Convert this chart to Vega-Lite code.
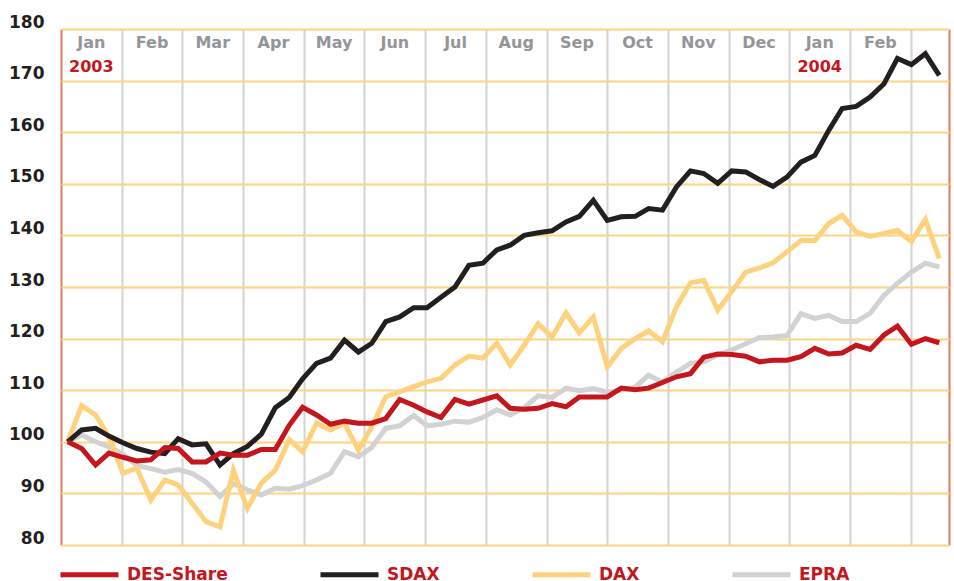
{
  "$schema": "https://vega.github.io/schema/vega-lite/v6.json",
  "width": 888,
  "height": 516,
  "autosize": {"type": "none"},
  "padding": {"left": 61, "top": 29, "right": 5, "bottom": 36},
  "background": "white",
  "config": {"view": {"stroke": null}, "font": "DejaVu Sans"},
  "datasets": {
    "series": [
      {"t":0.11,"DES-Share":100,"SDAX":100,"DAX":100,"EPRA":100},
      {"t":0.34,"DES-Share":98.7,"SDAX":102.3,"DAX":107.0,"EPRA":101.3},
      {"t":0.57,"DES-Share":95.5,"SDAX":102.6,"DAX":105.2,"EPRA":100.0},
      {"t":0.79,"DES-Share":97.8,"SDAX":101.1,"DAX":101.0,"EPRA":99.0},
      {"t":1.02,"DES-Share":97.0,"SDAX":99.8,"DAX":93.9,"EPRA":97.6},
      {"t":1.25,"DES-Share":96.3,"SDAX":98.7,"DAX":94.9,"EPRA":95.4},
      {"t":1.48,"DES-Share":96.5,"SDAX":98.0,"DAX":88.7,"EPRA":94.8},
      {"t":1.71,"DES-Share":98.9,"SDAX":97.7,"DAX":92.6,"EPRA":94.1},
      {"t":1.93,"DES-Share":98.7,"SDAX":100.6,"DAX":91.6,"EPRA":94.6},
      {"t":2.16,"DES-Share":96.1,"SDAX":99.4,"DAX":88.1,"EPRA":93.9},
      {"t":2.39,"DES-Share":96.1,"SDAX":99.6,"DAX":84.5,"EPRA":92.2},
      {"t":2.62,"DES-Share":97.8,"SDAX":95.5,"DAX":83.5,"EPRA":89.4},
      {"t":2.84,"DES-Share":97.4,"SDAX":97.7,"DAX":94.5,"EPRA":91.9},
      {"t":3.07,"DES-Share":97.4,"SDAX":99.1,"DAX":87.1,"EPRA":90.7},
      {"t":3.30,"DES-Share":98.5,"SDAX":101.5,"DAX":92.0,"EPRA":89.7},
      {"t":3.53,"DES-Share":98.5,"SDAX":106.6,"DAX":94.5,"EPRA":91.0},
      {"t":3.76,"DES-Share":103.2,"SDAX":108.6,"DAX":100.4,"EPRA":90.8},
      {"t":3.98,"DES-Share":106.7,"SDAX":112.2,"DAX":98.1,"EPRA":91.5},
      {"t":4.21,"DES-Share":105.2,"SDAX":115.2,"DAX":103.6,"EPRA":92.6},
      {"t":4.44,"DES-Share":103.4,"SDAX":116.2,"DAX":102.3,"EPRA":93.9},
      {"t":4.67,"DES-Share":104.0,"SDAX":119.7,"DAX":103.6,"EPRA":98.1},
      {"t":4.90,"DES-Share":103.6,"SDAX":117.4,"DAX":98.4,"EPRA":97.1},
      {"t":5.12,"DES-Share":103.6,"SDAX":119.1,"DAX":102.9,"EPRA":98.9},
      {"t":5.35,"DES-Share":104.5,"SDAX":123.3,"DAX":108.7,"EPRA":102.6},
      {"t":5.58,"DES-Share":108.2,"SDAX":124.2,"DAX":109.7,"EPRA":103.1},
      {"t":5.81,"DES-Share":107.1,"SDAX":126.0,"DAX":110.7,"EPRA":105.1},
      {"t":6.03,"DES-Share":105.8,"SDAX":126.0,"DAX":111.6,"EPRA":103.1},
      {"t":6.26,"DES-Share":104.7,"SDAX":128.0,"DAX":112.3,"EPRA":103.4},
      {"t":6.49,"DES-Share":108.2,"SDAX":130.0,"DAX":114.9,"EPRA":104.0},
      {"t":6.72,"DES-Share":107.3,"SDAX":134.2,"DAX":116.6,"EPRA":103.8},
      {"t":6.95,"DES-Share":108.1,"SDAX":134.6,"DAX":116.2,"EPRA":104.7},
      {"t":7.18,"DES-Share":108.9,"SDAX":137.2,"DAX":119.1,"EPRA":106.2},
      {"t":7.40,"DES-Share":106.5,"SDAX":138.1,"DAX":114.9,"EPRA":105.2},
      {"t":7.63,"DES-Share":106.3,"SDAX":140.0,"DAX":118.7,"EPRA":106.6},
      {"t":7.86,"DES-Share":106.5,"SDAX":140.5,"DAX":122.9,"EPRA":108.9},
      {"t":8.09,"DES-Share":107.4,"SDAX":140.9,"DAX":120.3,"EPRA":108.6},
      {"t":8.32,"DES-Share":106.8,"SDAX":142.6,"DAX":125.0,"EPRA":110.4},
      {"t":8.54,"DES-Share":108.7,"SDAX":143.7,"DAX":121.1,"EPRA":109.9},
      {"t":8.77,"DES-Share":108.7,"SDAX":146.8,"DAX":124.2,"EPRA":110.3},
      {"t":9.00,"DES-Share":108.7,"SDAX":142.9,"DAX":114.5,"EPRA":109.6},
      {"t":9.23,"DES-Share":110.4,"SDAX":143.6,"DAX":118.1,"EPRA":110.0},
      {"t":9.46,"DES-Share":110.1,"SDAX":143.7,"DAX":120.0,"EPRA":110.6},
      {"t":9.68,"DES-Share":110.4,"SDAX":145.2,"DAX":121.5,"EPRA":112.9},
      {"t":9.91,"DES-Share":111.5,"SDAX":144.9,"DAX":119.4,"EPRA":111.6},
      {"t":10.14,"DES-Share":112.6,"SDAX":149.4,"DAX":126.2,"EPRA":113.5},
      {"t":10.37,"DES-Share":113.2,"SDAX":152.5,"DAX":130.8,"EPRA":115.2},
      {"t":10.59,"DES-Share":116.4,"SDAX":152.0,"DAX":131.3,"EPRA":115.5},
      {"t":10.82,"DES-Share":117.0,"SDAX":150.1,"DAX":125.5,"EPRA":116.8},
      {"t":11.05,"DES-Share":116.9,"SDAX":152.5,"DAX":129.1,"EPRA":117.8},
      {"t":11.28,"DES-Share":116.6,"SDAX":152.3,"DAX":132.9,"EPRA":119.0},
      {"t":11.51,"DES-Share":115.5,"SDAX":150.8,"DAX":133.7,"EPRA":120.2},
      {"t":11.73,"DES-Share":115.8,"SDAX":149.5,"DAX":134.7,"EPRA":120.3},
      {"t":11.96,"DES-Share":115.8,"SDAX":151.3,"DAX":136.8,"EPRA":120.6},
      {"t":12.19,"DES-Share":116.5,"SDAX":154.2,"DAX":139.0,"EPRA":124.8},
      {"t":12.42,"DES-Share":118.1,"SDAX":155.5,"DAX":139.0,"EPRA":123.9},
      {"t":12.65,"DES-Share":117.0,"SDAX":160.4,"DAX":142.3,"EPRA":124.5},
      {"t":12.87,"DES-Share":117.2,"SDAX":164.6,"DAX":143.9,"EPRA":123.3},
      {"t":13.10,"DES-Share":118.7,"SDAX":165.0,"DAX":140.7,"EPRA":123.3},
      {"t":13.33,"DES-Share":117.9,"SDAX":166.8,"DAX":139.8,"EPRA":124.9},
      {"t":13.56,"DES-Share":120.7,"SDAX":169.4,"DAX":140.4,"EPRA":128.4},
      {"t":13.78,"DES-Share":122.4,"SDAX":174.3,"DAX":141.0,"EPRA":130.7},
      {"t":14.01,"DES-Share":118.9,"SDAX":173.1,"DAX":138.8,"EPRA":132.9},
      {"t":14.24,"DES-Share":120.0,"SDAX":175.2,"DAX":143.1,"EPRA":134.6},
      {"t":14.47,"DES-Share":119.2,"SDAX":171.0,"DAX":135.5,"EPRA":133.9}
    ],
    "months": [
      {"m":0.5,"mon":"Jan","yr":"2003"},
      {"m":1.5,"mon":"Feb","yr":""},
      {"m":2.5,"mon":"Mar","yr":""},
      {"m":3.5,"mon":"Apr","yr":""},
      {"m":4.5,"mon":"May","yr":""},
      {"m":5.5,"mon":"Jun","yr":""},
      {"m":6.5,"mon":"Jul","yr":""},
      {"m":7.5,"mon":"Aug","yr":""},
      {"m":8.5,"mon":"Sep","yr":""},
      {"m":9.5,"mon":"Oct","yr":""},
      {"m":10.5,"mon":"Nov","yr":""},
      {"m":11.5,"mon":"Dec","yr":""},
      {"m":12.5,"mon":"Jan","yr":"2004"},
      {"m":13.5,"mon":"Feb","yr":""}
    ]
  },
  "layer": [
    {
      "data": {"name": "months"},
      "mark": {"type": "text", "font": "DejaVu Sans", "fontWeight": "bold", "fontSize": 16, "color": "#939598", "baseline": "middle", "align": "center"},
      "encoding": {
        "x": {"field": "m", "type": "quantitative", "scale": {"domain": [0, 14.63], "nice": false, "zero": false},
          "axis": {"values": [0,1,2,3,4,5,6,7,8,9,10,11,12,13,14,14.63], "labels": false, "ticks": false, "domain": false, "title": null, "grid": true, "gridWidth": 2,
            "gridColor": {"condition": {"test": "datum.value == 0 || datum.value > 14.5", "value": "#e07a63"}, "value": "#d3d3d4"}}},
        "y": {"datum": 177.2, "type": "quantitative", "scale": {"domain": [80, 180], "nice": false, "zero": false},
          "axis": {"values": [80,90,100,110,120,130,140,150,160,170,180], "grid": true, "gridColor": "#fed47e", "gridWidth": 2, "domain": false, "ticks": false,
            "labelPadding": 17, "labelFontSize": 17, "labelFont": "DejaVu Sans", "labelFontWeight": "bold", "labelColor": "#231f20", "labelOffset": -7, "title": null}},
        "text": {"field": "mon"}
      }
    },
    {
      "data": {"name": "months"},
      "mark": {"type": "text", "font": "DejaVu Sans", "fontWeight": "bold", "fontSize": 16, "color": "#c4161c", "baseline": "middle", "align": "center"},
      "encoding": {
        "x": {"field": "m", "type": "quantitative"},
        "y": {"datum": 172.6, "type": "quantitative"},
        "text": {"field": "yr"}
      }
    },
    {
      "data": {"name": "series"},
      "transform": [{"fold": ["EPRA", "DAX", "SDAX", "DES-Share"], "as": ["key", "value"]}],
      "mark": {"type": "line", "strokeWidth": 5, "strokeJoin": "miter", "strokeCap": "butt"},
      "encoding": {
        "x": {"field": "t", "type": "quantitative"},
        "y": {"field": "value", "type": "quantitative"},
        "color": {"field": "key", "type": "nominal",
          "scale": {"domain": ["DES-Share", "SDAX", "DAX", "EPRA"], "range": ["#c4161c", "#231f20", "#fed27c", "#d1d2d4"]},
          "legend": {"orient": "none", "direction": "horizontal", "legendX": -3, "legendY": 514, "title": null,
            "symbolType": "stroke", "symbolSize": 3364, "symbolStrokeWidth": 5,
            "labelFont": "DejaVu Sans", "labelFontWeight": "bold", "labelFontSize": 17, "labelColor": "#c4161c",
            "columnPadding": 82, "labelOffset": 6, "padding": 0}}
      }
    }
  ]
}
